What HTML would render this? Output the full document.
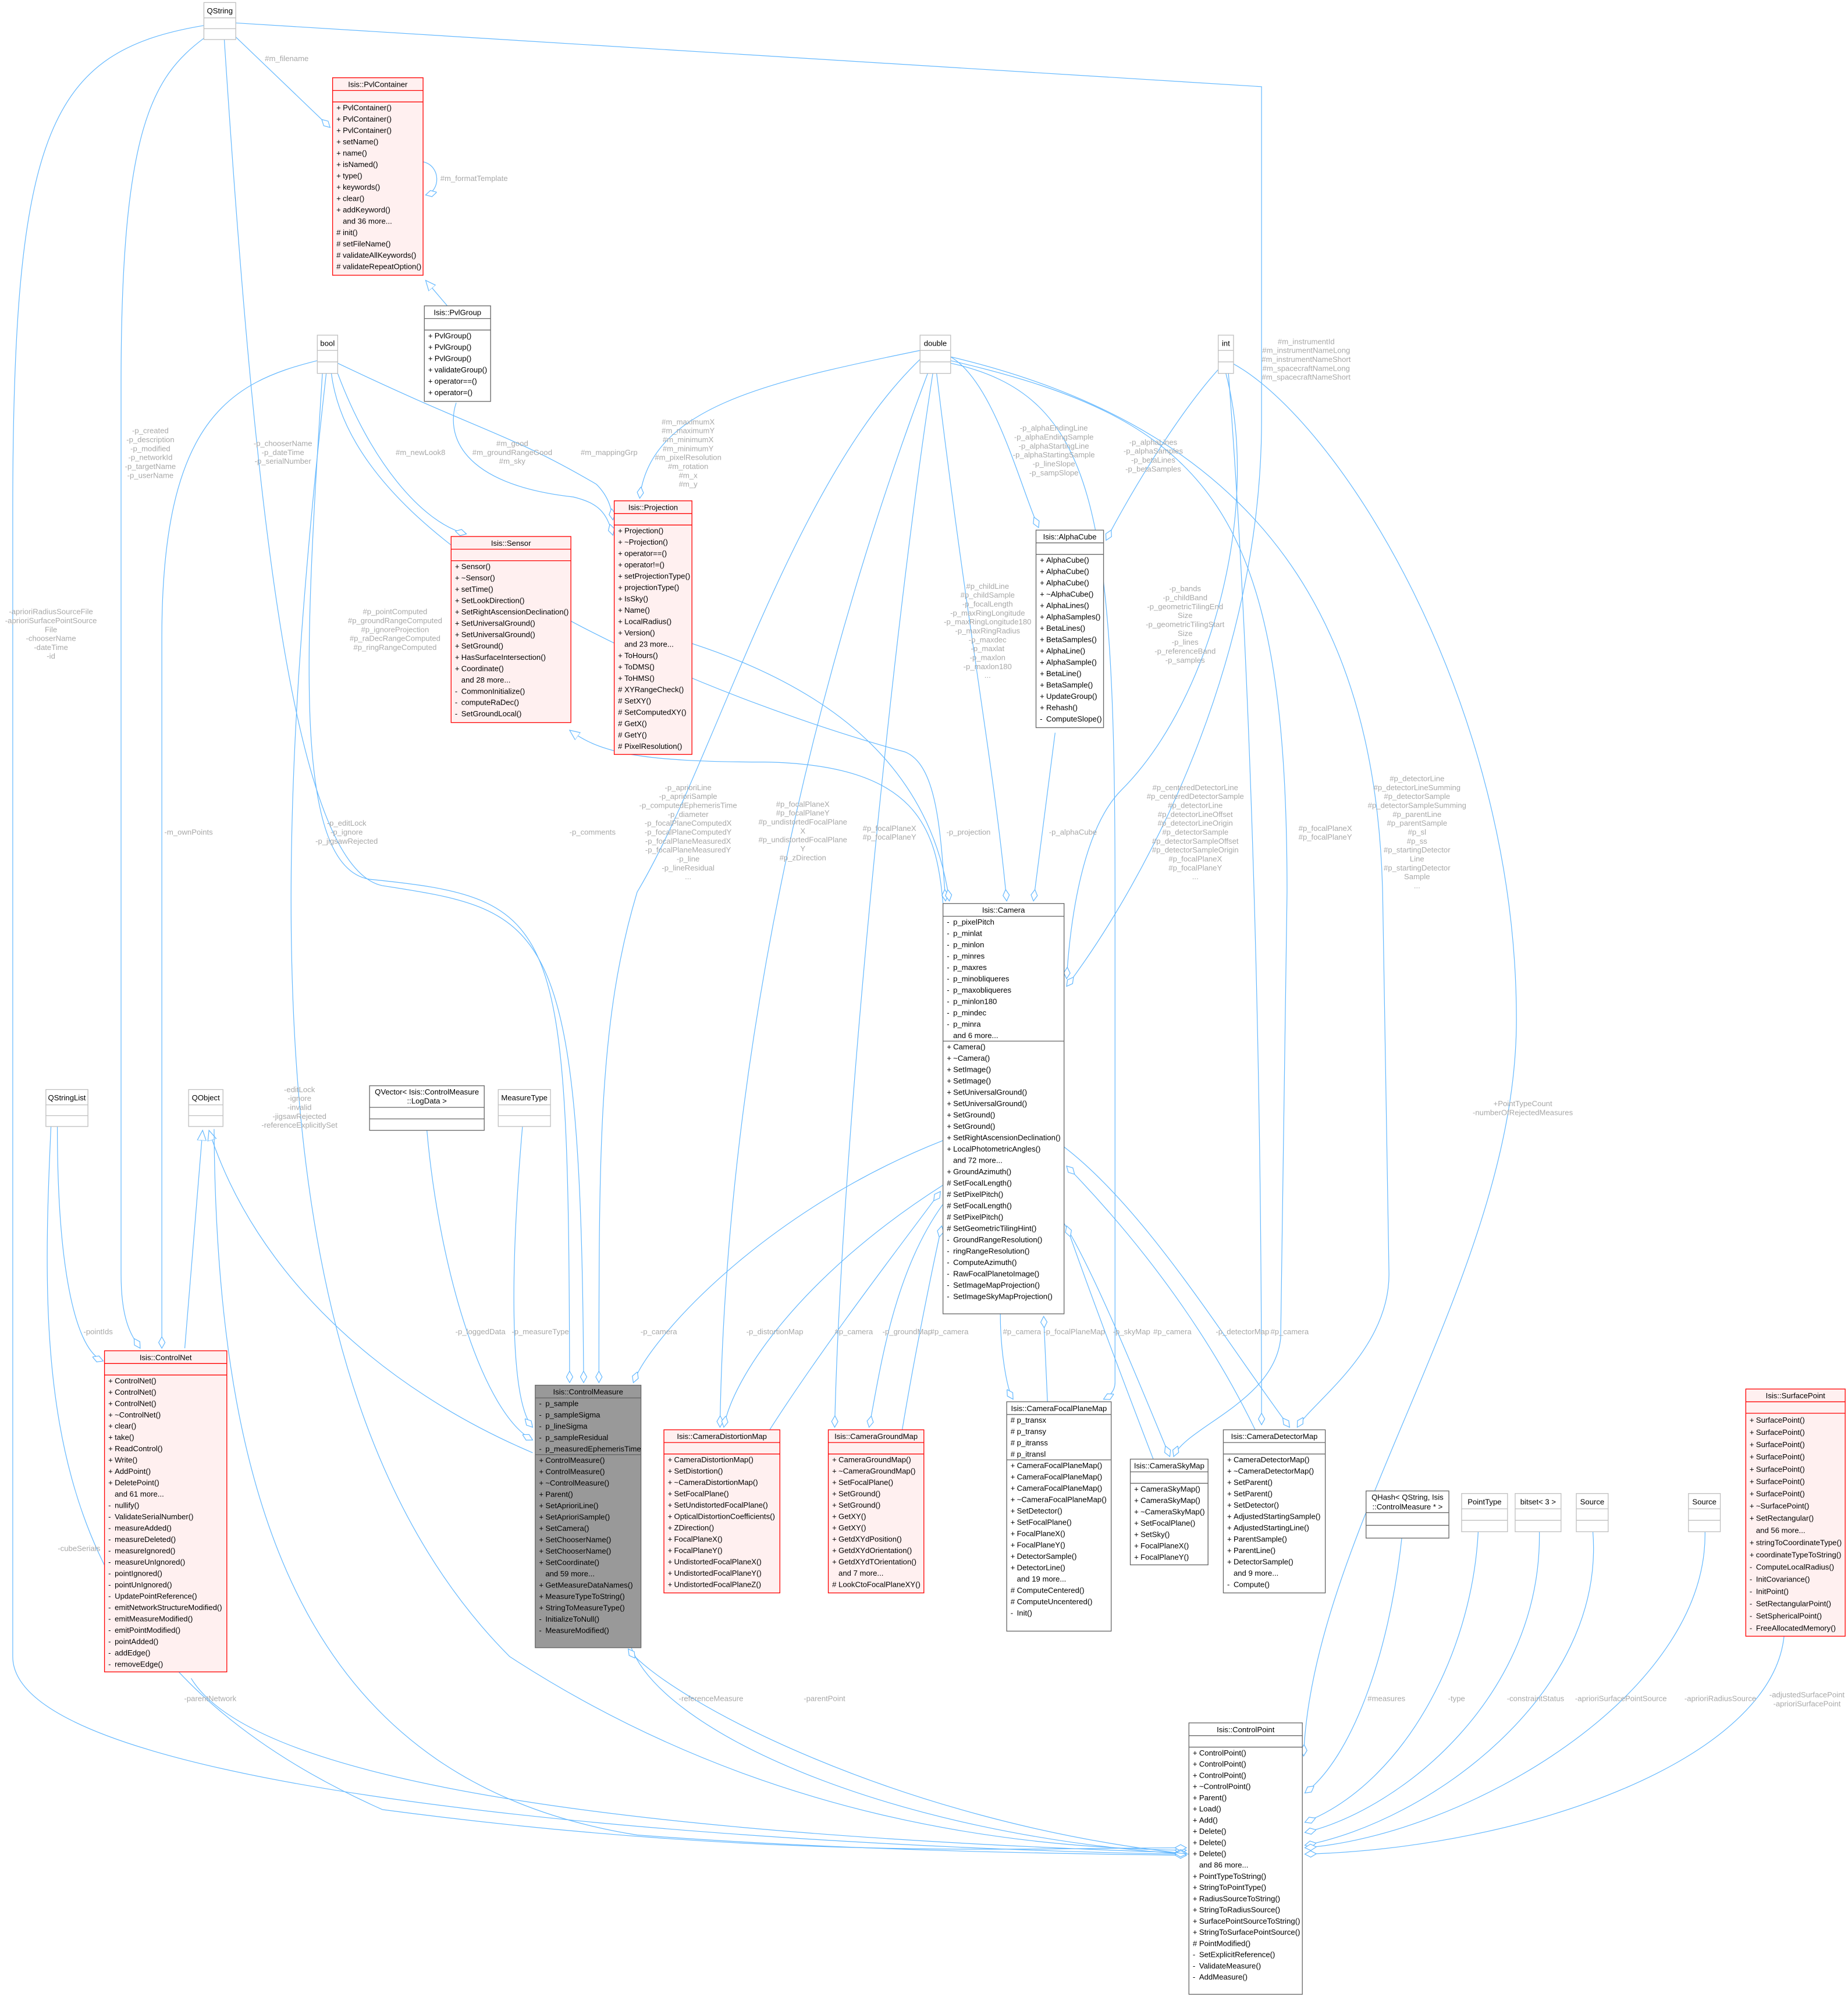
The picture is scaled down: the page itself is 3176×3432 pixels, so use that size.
<!DOCTYPE html>
<html><head><meta charset="utf-8"><style>
html,body{margin:0;padding:0;background:#fff;}
svg{display:block;}
text{font-family:"Liberation Sans",Arial,sans-serif;font-size:6.0px;fill:#000;}
.lb{fill:#a8a8a8;text-anchor:middle;}
.t{text-anchor:middle;}
.e{fill:none;stroke:#63b8ff;stroke-width:0.55;}
.red{fill:#fff0f0;stroke:#ff0000;stroke-width:0.6;}
.rl{stroke:#ff0000;stroke-width:0.6;}
.gr{fill:#fff;stroke:#666;stroke-width:0.6;}
.gl{stroke:#666;stroke-width:0.6;}
.lt{fill:#fff;stroke:#bfbfbf;stroke-width:0.6;}
.ll{stroke:#bfbfbf;stroke-width:0.6;}
.cm{fill:#999;stroke:#666;stroke-width:0.6;}
</style></head><body>
<svg xmlns="http://www.w3.org/2000/svg" width="3176" height="3432" viewBox="0 0 1450.2 1567.1">
<defs>
<marker id="d" markerUnits="userSpaceOnUse" markerWidth="12" markerHeight="8" refX="9" refY="3" orient="auto"><path d="M0,3 L4.5,0.5 L9,3 L4.5,5.5 Z" fill="#fff" stroke="#63b8ff" stroke-width="0.55"/></marker>
<marker id="tr" markerUnits="userSpaceOnUse" markerWidth="12" markerHeight="10" refX="8" refY="4" orient="auto"><path d="M0,0.5 L8,4 L0,7.5 Z" fill="#fff" stroke="#63b8ff" stroke-width="0.55"/></marker>
</defs>
<rect width="1450.2" height="1567.1" fill="#fff"/>

<!-- EDGES -->
<g class="e">
<path d="M185,29 L259,100" marker-end="url(#d)"/>
<path d="M332,127 C346,130 346,150 334,153" marker-end="url(#d)"/>
<path d="M351,240 L334,220" marker-end="url(#tr)"/>
<path d="M185,18 L990,68 L990,330 C990,520 900,690 837,774" marker-end="url(#d)"/>
<path d="M160,20 C40,40 10,100 10,400 L10,1300 C10,1420 700,1452 931,1455" marker-end="url(#d)"/>
<path d="M160,30 C120,60 95,100 95,300 L95,1000 C95,1040 105,1050 110,1058" marker-end="url(#d)"/>
<path d="M176,31 C200,400 230,680 300,695 C430,715 456,720 458,1085" marker-end="url(#d)"/>
<path d="M249,283 C180,300 127,330 127,500 L127,1058" marker-end="url(#d)"/>
<path d="M253,293 C240,500 228,680 290,690 C440,705 446,720 447,1085" marker-end="url(#d)"/>
<path d="M256,293 C210,700 200,1100 400,1300 C600,1430 800,1450 931,1452" marker-end="url(#d)"/>
<path d="M265,293 C290,360 330,410 366,419" marker-end="url(#d)"/>
<path d="M265,285 C380,340 400,340 468,380 C478,390 480,400 481,408" marker-end="url(#d)"/>
<path d="M260,293 C280,450 600,560 710,590 C735,600 738,650 742,707" marker-end="url(#d)"/>
<path d="M358,316 C350,340 360,380 450,390 C470,395 476,402 481,420" marker-end="url(#d)"/>
<path d="M722,275 C600,300 510,320 502,391" marker-end="url(#d)"/>
<path d="M722,282 C620,380 560,600 500,700 C470,800 470,900 470,1085" marker-end="url(#d)"/>
<path d="M728,293 C650,500 570,800 565,1120" marker-end="url(#d)"/>
<path d="M732,293 C700,500 660,900 655,1120" marker-end="url(#d)"/>
<path d="M735,293 C760,500 780,600 790,707" marker-end="url(#d)"/>
<path d="M746,280 C780,300 800,380 815,414" marker-end="url(#d)"/>
<path d="M967,285 C1050,330 1190,550 1190,800 C1190,1000 1030,1200 1023,1378" marker-end="url(#d)"/>
<path d="M746,285 C860,310 875,400 875,700 L875,1085 C875,1092 870,1096 866,1098" marker-end="url(#d)"/>
<path d="M746,283 C950,330 1010,400 1010,700 L1005,1050 C1000,1100 930,1120 921,1143" marker-end="url(#d)"/>
<path d="M746,280 C1000,340 1080,500 1085,700 L1090,1000 C1090,1060 1030,1100 1018,1120" marker-end="url(#d)"/>
<path d="M956,290 C920,330 880,400 868,424" marker-end="url(#d)"/>
<path d="M962,293 C990,400 950,550 880,620 C850,650 840,720 837,768" marker-end="url(#d)"/>
<path d="M964,293 C980,500 990,800 990,1118" marker-end="url(#d)"/>
<path d="M740,709 C735,650 720,600 600,598 C500,598 470,590 447,573" marker-end="url(#tr)"/>
<path d="M543,505 C650,540 730,600 745,707" marker-end="url(#d)"/>
<path d="M828,575 L811,707" marker-end="url(#d)"/>
<path d="M45,884 C45,1000 60,1060 81,1068" marker-end="url(#d)"/>
<path d="M40,884 C30,1100 30,1300 300,1420 C600,1460 800,1450 931,1450" marker-end="url(#d)"/>
<path d="M145,1058 L159,887" marker-end="url(#tr)"/>
<path d="M418,1140 C300,1090 200,1000 164,887" marker-end="url(#tr)"/>
<path d="M168,886 C170,1200 250,1400 500,1440 C700,1455 900,1455 931,1456" marker-end="url(#d)"/>
<path d="M335,887 C345,1000 380,1110 418,1130" marker-end="url(#d)"/>
<path d="M410,884 C400,1000 400,1100 418,1120" marker-end="url(#d)"/>
<path d="M740,895 C600,950 510,1050 497,1085" marker-end="url(#d)"/>
<path d="M740,930 C630,1000 575,1080 568,1120" marker-end="url(#d)"/>
<path d="M604,1122 C650,1050 720,960 738,935" marker-end="url(#d)"/>
<path d="M740,945 C700,1000 690,1080 682,1120" marker-end="url(#d)"/>
<path d="M708,1122 C720,1050 735,980 739,962" marker-end="url(#d)"/>
<path d="M785,1031 C785,1060 790,1090 795,1098" marker-end="url(#d)"/>
<path d="M822,1100 L819,1033" marker-end="url(#d)"/>
<path d="M835,960 C860,1000 900,1100 918,1143" marker-end="url(#d)"/>
<path d="M905,1145 C880,1080 850,1000 837,962" marker-end="url(#d)"/>
<path d="M835,900 C900,950 960,1050 1012,1120" marker-end="url(#d)"/>
<path d="M985,1122 C950,1050 900,980 837,915" marker-end="url(#d)"/>
<path d="M150,1317 C200,1400 500,1440 931,1454" marker-end="url(#d)"/>
<path d="M495,1292 C520,1360 700,1440 931,1455" marker-end="url(#d)"/>
<path d="M933,1455 C700,1430 520,1330 493,1294" marker-end="url(#d)"/>
<path d="M1100,1207 C1090,1300 1060,1380 1024,1407" marker-end="url(#d)"/>
<path d="M1160,1202 C1155,1300 1100,1400 1024,1430" marker-end="url(#d)"/>
<path d="M1208,1202 C1210,1330 1100,1420 1024,1438" marker-end="url(#d)"/>
<path d="M1250,1202 C1260,1330 1120,1430 1024,1448" marker-end="url(#d)"/>
<path d="M1338,1202 C1340,1330 1150,1440 1024,1450" marker-end="url(#d)"/>
<path d="M1400,1284 C1390,1380 1200,1450 1024,1455" marker-end="url(#d)"/>
</g>

<!-- EDGE LABELS -->
<g>
<text class="lb" x="225" y="48">#m_filename</text>
<text class="lb" x="372" y="142">#m_formatTemplate</text>
<text class="lb" x="1025" y="270"><tspan x="1025">#m_instrumentId</tspan><tspan x="1025" dy="7">#m_instrumentNameLong</tspan><tspan x="1025" dy="7">#m_instrumentNameShort</tspan><tspan x="1025" dy="7">#m_spacecraftNameLong</tspan><tspan x="1025" dy="7">#m_spacecraftNameShort</tspan></text>
<text class="lb" x="40" y="482"><tspan x="40">-aprioriRadiusSourceFile</tspan><tspan x="40" dy="7">-aprioriSurfacePointSource</tspan><tspan x="40" dy="7">File</tspan><tspan x="40" dy="7">-chooserName</tspan><tspan x="40" dy="7">-dateTime</tspan><tspan x="40" dy="7">-id</tspan></text>
<text class="lb" x="118" y="340"><tspan x="118">-p_created</tspan><tspan x="118" dy="7">-p_description</tspan><tspan x="118" dy="7">-p_modified</tspan><tspan x="118" dy="7">-p_networkId</tspan><tspan x="118" dy="7">-p_targetName</tspan><tspan x="118" dy="7">-p_userName</tspan></text>
<text class="lb" x="222" y="350"><tspan x="222">-p_chooserName</tspan><tspan x="222" dy="7">-p_dateTime</tspan><tspan x="222" dy="7">-p_serialNumber</tspan></text>
<text class="lb" x="330" y="357">#m_newLook8</text>
<text class="lb" x="402" y="350"><tspan x="402">#m_good</tspan><tspan x="402" dy="7">#m_groundRangeGood</tspan><tspan x="402" dy="7">#m_sky</tspan></text>
<text class="lb" x="478" y="357">#m_mappingGrp</text>
<text class="lb" x="540" y="333"><tspan x="540">#m_maximumX</tspan><tspan x="540" dy="7">#m_maximumY</tspan><tspan x="540" dy="7">#m_minimumX</tspan><tspan x="540" dy="7">#m_minimumY</tspan><tspan x="540" dy="7">#m_pixelResolution</tspan><tspan x="540" dy="7">#m_rotation</tspan><tspan x="540" dy="7">#m_x</tspan><tspan x="540" dy="7">#m_y</tspan></text>
<text class="lb" x="310" y="482"><tspan x="310">#p_pointComputed</tspan><tspan x="310" dy="7">#p_groundRangeComputed</tspan><tspan x="310" dy="7">#p_ignoreProjection</tspan><tspan x="310" dy="7">#p_raDecRangeComputed</tspan><tspan x="310" dy="7">#p_ringRangeComputed</tspan></text>
<text class="lb" x="827" y="338"><tspan x="827">-p_alphaEndingLine</tspan><tspan x="827" dy="7">-p_alphaEndingSample</tspan><tspan x="827" dy="7">-p_alphaStartingLine</tspan><tspan x="827" dy="7">-p_alphaStartingSample</tspan><tspan x="827" dy="7">-p_lineSlope</tspan><tspan x="827" dy="7">-p_sampSlope</tspan></text>
<text class="lb" x="905" y="349"><tspan x="905">-p_alphaLines</tspan><tspan x="905" dy="7">-p_alphaSamples</tspan><tspan x="905" dy="7">-p_betaLines</tspan><tspan x="905" dy="7">-p_betaSamples</tspan></text>
<text class="lb" x="775" y="462"><tspan x="775">#p_childLine</tspan><tspan x="775" dy="7">#p_childSample</tspan><tspan x="775" dy="7">-p_focalLength</tspan><tspan x="775" dy="7">-p_maxRingLongitude</tspan><tspan x="775" dy="7">-p_maxRingLongitude180</tspan><tspan x="775" dy="7">-p_maxRingRadius</tspan><tspan x="775" dy="7">-p_maxdec</tspan><tspan x="775" dy="7">-p_maxlat</tspan><tspan x="775" dy="7">-p_maxlon</tspan><tspan x="775" dy="7">-p_maxlon180</tspan><tspan x="775" dy="7">...</tspan></text>
<text class="lb" x="930" y="464"><tspan x="930">-p_bands</tspan><tspan x="930" dy="7">-p_childBand</tspan><tspan x="930" dy="7">-p_geometricTilingEnd</tspan><tspan x="930" dy="7">Size</tspan><tspan x="930" dy="7">-p_geometricTilingStart</tspan><tspan x="930" dy="7">Size</tspan><tspan x="930" dy="7">-p_lines</tspan><tspan x="930" dy="7">-p_referenceBand</tspan><tspan x="930" dy="7">-p_samples</tspan></text>
<text class="lb" x="938" y="620"><tspan x="938">#p_centeredDetectorLine</tspan><tspan x="938" dy="7">#p_centeredDetectorSample</tspan><tspan x="938" dy="7">#p_detectorLine</tspan><tspan x="938" dy="7">#p_detectorLineOffset</tspan><tspan x="938" dy="7">#p_detectorLineOrigin</tspan><tspan x="938" dy="7">#p_detectorSample</tspan><tspan x="938" dy="7">#p_detectorSampleOffset</tspan><tspan x="938" dy="7">#p_detectorSampleOrigin</tspan><tspan x="938" dy="7">#p_focalPlaneX</tspan><tspan x="938" dy="7">#p_focalPlaneY</tspan><tspan x="938" dy="7">...</tspan></text>
<text class="lb" x="1040" y="652"><tspan x="1040">#p_focalPlaneX</tspan><tspan x="1040" dy="7">#p_focalPlaneY</tspan></text>
<text class="lb" x="1112" y="613"><tspan x="1112">#p_detectorLine</tspan><tspan x="1112" dy="7">#p_detectorLineSumming</tspan><tspan x="1112" dy="7">#p_detectorSample</tspan><tspan x="1112" dy="7">#p_detectorSampleSumming</tspan><tspan x="1112" dy="7">#p_parentLine</tspan><tspan x="1112" dy="7">#p_parentSample</tspan><tspan x="1112" dy="7">#p_sl</tspan><tspan x="1112" dy="7">#p_ss</tspan><tspan x="1112" dy="7">#p_startingDetector</tspan><tspan x="1112" dy="7">Line</tspan><tspan x="1112" dy="7">#p_startingDetector</tspan><tspan x="1112" dy="7">Sample</tspan><tspan x="1112" dy="7">...</tspan></text>
<text class="lb" x="540" y="620"><tspan x="540">-p_aprioriLine</tspan><tspan x="540" dy="7">-p_aprioriSample</tspan><tspan x="540" dy="7">-p_computedEphemerisTime</tspan><tspan x="540" dy="7">-p_diameter</tspan><tspan x="540" dy="7">-p_focalPlaneComputedX</tspan><tspan x="540" dy="7">-p_focalPlaneComputedY</tspan><tspan x="540" dy="7">-p_focalPlaneMeasuredX</tspan><tspan x="540" dy="7">-p_focalPlaneMeasuredY</tspan><tspan x="540" dy="7">-p_line</tspan><tspan x="540" dy="7">-p_lineResidual</tspan><tspan x="540" dy="7">...</tspan></text>
<text class="lb" x="630" y="633"><tspan x="630">#p_focalPlaneX</tspan><tspan x="630" dy="7">#p_focalPlaneY</tspan><tspan x="630" dy="7">#p_undistortedFocalPlane</tspan><tspan x="630" dy="7">X</tspan><tspan x="630" dy="7">#p_undistortedFocalPlane</tspan><tspan x="630" dy="7">Y</tspan><tspan x="630" dy="7">#p_zDirection</tspan></text>
<text class="lb" x="698" y="652"><tspan x="698">#p_focalPlaneX</tspan><tspan x="698" dy="7">#p_focalPlaneY</tspan></text>
<text class="lb" x="148" y="655">-m_ownPoints</text>
<text class="lb" x="272" y="648"><tspan x="272">-p_editLock</tspan><tspan x="272" dy="7">-p_ignore</tspan><tspan x="272" dy="7">-p_jigsawRejected</tspan></text>
<text class="lb" x="465" y="655">-p_comments</text>
<text class="lb" x="760" y="655">-p_projection</text>
<text class="lb" x="842" y="655">-p_alphaCube</text>
<text class="lb" x="235" y="857"><tspan x="235">-editLock</tspan><tspan x="235" dy="7">-ignore</tspan><tspan x="235" dy="7">-invalid</tspan><tspan x="235" dy="7">-jigsawRejected</tspan><tspan x="235" dy="7">-referenceExplicitlySet</tspan></text>
<text class="lb" x="1195" y="868"><tspan x="1195">+PointTypeCount</tspan><tspan x="1195" dy="7">-numberOfRejectedMeasures</tspan></text>
<text class="lb" x="77" y="1047">-pointIds</text>
<text class="lb" x="377" y="1047">-p_loggedData</text>
<text class="lb" x="424" y="1047">-p_measureType</text>
<text class="lb" x="517" y="1047">-p_camera</text>
<text class="lb" x="608" y="1047">-p_distortionMap</text>
<text class="lb" x="670" y="1047">#p_camera</text>
<text class="lb" x="712" y="1047">-p_groundMap</text>
<text class="lb" x="745" y="1047">#p_camera</text>
<text class="lb" x="802" y="1047">#p_camera</text>
<text class="lb" x="843" y="1047">-p_focalPlaneMap</text>
<text class="lb" x="888" y="1047">-p_skyMap</text>
<text class="lb" x="920" y="1047">#p_camera</text>
<text class="lb" x="975" y="1047">-p_detectorMap</text>
<text class="lb" x="1012" y="1047">#p_camera</text>
<text class="lb" x="62" y="1217">-cubeSerials</text>
<text class="lb" x="165" y="1335">-parentNetwork</text>
<text class="lb" x="558" y="1335">-referenceMeasure</text>
<text class="lb" x="647" y="1335">-parentPoint</text>
<text class="lb" x="1088" y="1335">#measures</text>
<text class="lb" x="1143" y="1335">-type</text>
<text class="lb" x="1205" y="1335">-constraintStatus</text>
<text class="lb" x="1272" y="1335">-aprioriSurfacePointSource</text>
<text class="lb" x="1350" y="1335">-aprioriRadiusSource</text>
<text class="lb" x="1418" y="1332"><tspan x="1418">-adjustedSurfacePoint</tspan><tspan x="1418" dy="7">-aprioriSurfacePoint</tspan></text>
</g>

<!-- SIMPLE BOXES -->
<g>
<rect class="lt" x="160" y="2" width="25" height="29"/><line class="ll" x1="160" y1="14" x2="185" y2="14"/><line class="ll" x1="160" y1="22.5" x2="185" y2="22.5"/><text class="t" x="172.5" y="10.5">QString</text>
<rect class="lt" x="249" y="263" width="16" height="30"/><line class="ll" x1="249" y1="275" x2="265" y2="275"/><line class="ll" x1="249" y1="284" x2="265" y2="284"/><text class="t" x="257" y="271.5">bool</text>
<rect class="lt" x="722" y="263" width="24" height="30"/><line class="ll" x1="722" y1="275" x2="746" y2="275"/><line class="ll" x1="722" y1="284" x2="746" y2="284"/><text class="t" x="734" y="271.5">double</text>
<rect class="lt" x="956" y="263" width="12" height="30"/><line class="ll" x1="956" y1="275" x2="968" y2="275"/><line class="ll" x1="956" y1="284" x2="968" y2="284"/><text class="t" x="962" y="271.5">int</text>
<rect class="lt" x="36" y="855" width="33" height="29"/><line class="ll" x1="36" y1="867" x2="69" y2="867"/><line class="ll" x1="36" y1="875.5" x2="69" y2="875.5"/><text class="t" x="52.5" y="863.5">QStringList</text>
<rect class="lt" x="148" y="855" width="27" height="29"/><line class="ll" x1="148" y1="867" x2="175" y2="867"/><line class="ll" x1="148" y1="875.5" x2="175" y2="875.5"/><text class="t" x="161.5" y="863.5">QObject</text>
<rect class="lt" x="391" y="855" width="41" height="29"/><line class="ll" x1="391" y1="867" x2="432" y2="867"/><line class="ll" x1="391" y1="875.5" x2="432" y2="875.5"/><text class="t" x="411.5" y="863.5">MeasureType</text>
<rect class="gr" x="290" y="852" width="90" height="35"/><line class="gl" x1="290" y1="869" x2="380" y2="869"/><line class="gl" x1="290" y1="878" x2="380" y2="878"/><text class="t" x="335" y="859">QVector&lt; Isis::ControlMeasure</text><text class="t" x="335" y="866">::LogData &gt;</text>
<rect class="gr" x="1072" y="1170" width="65" height="37"/><line class="gl" x1="1072" y1="1187" x2="1137" y2="1187"/><line class="gl" x1="1072" y1="1197" x2="1137" y2="1197"/><text class="t" x="1104.5" y="1177">QHash&lt; QString, Isis</text><text class="t" x="1104.5" y="1184.5">::ControlMeasure * &gt;</text>
<rect class="lt" x="1147" y="1172" width="36" height="30"/><line class="ll" x1="1147" y1="1184" x2="1183" y2="1184"/><line class="ll" x1="1147" y1="1193" x2="1183" y2="1193"/><text class="t" x="1165" y="1180.5">PointType</text>
<rect class="lt" x="1189" y="1172" width="36" height="30"/><line class="ll" x1="1189" y1="1184" x2="1225" y2="1184"/><line class="ll" x1="1189" y1="1193" x2="1225" y2="1193"/><text class="t" x="1207" y="1180.5">bitset&lt; 3 &gt;</text>
<rect class="lt" x="1237" y="1172" width="25" height="30"/><line class="ll" x1="1237" y1="1184" x2="1262" y2="1184"/><line class="ll" x1="1237" y1="1193" x2="1262" y2="1193"/><text class="t" x="1249.5" y="1180.5">Source</text>
<rect class="lt" x="1325" y="1172" width="25" height="30"/><line class="ll" x1="1325" y1="1184" x2="1350" y2="1184"/><line class="ll" x1="1325" y1="1193" x2="1350" y2="1193"/><text class="t" x="1337.5" y="1180.5">Source</text>
</g>

<!-- PvlContainer -->
<g>
<rect class="red" x="261" y="61" width="71" height="155"/><line class="rl" x1="261" y1="71" x2="332" y2="71"/><line class="rl" x1="261" y1="80" x2="332" y2="80"/>
<text class="t" x="296.5" y="68.3">Isis::PvlContainer</text>
<text x="264" y="86.5"><tspan x="264">+</tspan><tspan x="264" dy="8.9">+</tspan><tspan x="264" dy="8.9">+</tspan><tspan x="264" dy="8.9">+</tspan><tspan x="264" dy="8.9">+</tspan><tspan x="264" dy="8.9">+</tspan><tspan x="264" dy="8.9">+</tspan><tspan x="264" dy="8.9">+</tspan><tspan x="264" dy="8.9">+</tspan><tspan x="264" dy="8.9">+</tspan><tspan x="264" dy="8.9"> </tspan><tspan x="264" dy="8.9">#</tspan><tspan x="264" dy="8.9">#</tspan><tspan x="264" dy="8.9">#</tspan><tspan x="264" dy="8.9">#</tspan></text>
<text x="269" y="86.5"><tspan x="269">PvlContainer()</tspan><tspan x="269" dy="8.9">PvlContainer()</tspan><tspan x="269" dy="8.9">PvlContainer()</tspan><tspan x="269" dy="8.9">setName()</tspan><tspan x="269" dy="8.9">name()</tspan><tspan x="269" dy="8.9">isNamed()</tspan><tspan x="269" dy="8.9">type()</tspan><tspan x="269" dy="8.9">keywords()</tspan><tspan x="269" dy="8.9">clear()</tspan><tspan x="269" dy="8.9">addKeyword()</tspan><tspan x="269" dy="8.9">and 36 more...</tspan><tspan x="269" dy="8.9">init()</tspan><tspan x="269" dy="8.9">setFileName()</tspan><tspan x="269" dy="8.9">validateAllKeywords()</tspan><tspan x="269" dy="8.9">validateRepeatOption()</tspan></text>
</g>

<!-- PvlGroup -->
<g>
<rect class="gr" x="333" y="240" width="52" height="75"/><line class="gl" x1="333" y1="250" x2="385" y2="250"/><line class="gl" x1="333" y1="259" x2="385" y2="259"/>
<text class="t" x="359" y="247.3">Isis::PvlGroup</text>
<text x="336" y="265.5"><tspan x="336">+</tspan><tspan x="336" dy="8.9">+</tspan><tspan x="336" dy="8.9">+</tspan><tspan x="336" dy="8.9">+</tspan><tspan x="336" dy="8.9">+</tspan><tspan x="336" dy="8.9">+</tspan></text>
<text x="341" y="265.5"><tspan x="341">PvlGroup()</tspan><tspan x="341" dy="8.9">PvlGroup()</tspan><tspan x="341" dy="8.9">PvlGroup()</tspan><tspan x="341" dy="8.9">validateGroup()</tspan><tspan x="341" dy="8.9">operator==()</tspan><tspan x="341" dy="8.9">operator=()</tspan></text>
</g>

<!-- Projection -->
<g>
<rect class="red" x="482" y="393" width="61" height="199"/><line class="rl" x1="482" y1="403" x2="543" y2="403"/><line class="rl" x1="482" y1="412" x2="543" y2="412"/>
<text class="t" x="512.5" y="400.3">Isis::Projection</text>
<text x="485" y="418.5"><tspan x="485">+</tspan><tspan x="485" dy="8.9">+</tspan><tspan x="485" dy="8.9">+</tspan><tspan x="485" dy="8.9">+</tspan><tspan x="485" dy="8.9">+</tspan><tspan x="485" dy="8.9">+</tspan><tspan x="485" dy="8.9">+</tspan><tspan x="485" dy="8.9">+</tspan><tspan x="485" dy="8.9">+</tspan><tspan x="485" dy="8.9">+</tspan><tspan x="485" dy="8.9"> </tspan><tspan x="485" dy="8.9">+</tspan><tspan x="485" dy="8.9">+</tspan><tspan x="485" dy="8.9">+</tspan><tspan x="485" dy="8.9">#</tspan><tspan x="485" dy="8.9">#</tspan><tspan x="485" dy="8.9">#</tspan><tspan x="485" dy="8.9">#</tspan><tspan x="485" dy="8.9">#</tspan><tspan x="485" dy="8.9">#</tspan></text>
<text x="490" y="418.5"><tspan x="490">Projection()</tspan><tspan x="490" dy="8.9">~Projection()</tspan><tspan x="490" dy="8.9">operator==()</tspan><tspan x="490" dy="8.9">operator!=()</tspan><tspan x="490" dy="8.9">setProjectionType()</tspan><tspan x="490" dy="8.9">projectionType()</tspan><tspan x="490" dy="8.9">IsSky()</tspan><tspan x="490" dy="8.9">Name()</tspan><tspan x="490" dy="8.9">LocalRadius()</tspan><tspan x="490" dy="8.9">Version()</tspan><tspan x="490" dy="8.9">and 23 more...</tspan><tspan x="490" dy="8.9">ToHours()</tspan><tspan x="490" dy="8.9">ToDMS()</tspan><tspan x="490" dy="8.9">ToHMS()</tspan><tspan x="490" dy="8.9">XYRangeCheck()</tspan><tspan x="490" dy="8.9">SetXY()</tspan><tspan x="490" dy="8.9">SetComputedXY()</tspan><tspan x="490" dy="8.9">GetX()</tspan><tspan x="490" dy="8.9">GetY()</tspan><tspan x="490" dy="8.9">PixelResolution()</tspan></text>
</g>

<!-- Sensor -->
<g>
<rect class="red" x="354" y="421" width="94" height="146"/><line class="rl" x1="354" y1="431" x2="448" y2="431"/><line class="rl" x1="354" y1="440" x2="448" y2="440"/>
<text class="t" x="401" y="428.3">Isis::Sensor</text>
<text x="357" y="446.5"><tspan x="357">+</tspan><tspan x="357" dy="8.9">+</tspan><tspan x="357" dy="8.9">+</tspan><tspan x="357" dy="8.9">+</tspan><tspan x="357" dy="8.9">+</tspan><tspan x="357" dy="8.9">+</tspan><tspan x="357" dy="8.9">+</tspan><tspan x="357" dy="8.9">+</tspan><tspan x="357" dy="8.9">+</tspan><tspan x="357" dy="8.9">+</tspan><tspan x="357" dy="8.9"> </tspan><tspan x="357" dy="8.9">-</tspan><tspan x="357" dy="8.9">-</tspan><tspan x="357" dy="8.9">-</tspan></text>
<text x="362" y="446.5"><tspan x="362">Sensor()</tspan><tspan x="362" dy="8.9">~Sensor()</tspan><tspan x="362" dy="8.9">setTime()</tspan><tspan x="362" dy="8.9">SetLookDirection()</tspan><tspan x="362" dy="8.9">SetRightAscensionDeclination()</tspan><tspan x="362" dy="8.9">SetUniversalGround()</tspan><tspan x="362" dy="8.9">SetUniversalGround()</tspan><tspan x="362" dy="8.9">SetGround()</tspan><tspan x="362" dy="8.9">HasSurfaceIntersection()</tspan><tspan x="362" dy="8.9">Coordinate()</tspan><tspan x="362" dy="8.9">and 28 more...</tspan><tspan x="362" dy="8.9">CommonInitialize()</tspan><tspan x="362" dy="8.9">computeRaDec()</tspan><tspan x="362" dy="8.9">SetGroundLocal()</tspan></text>
</g>

<!-- AlphaCube -->
<g>
<rect class="gr" x="813" y="416" width="53" height="155"/><line class="gl" x1="813" y1="426" x2="866" y2="426"/><line class="gl" x1="813" y1="435" x2="866" y2="435"/>
<text class="t" x="839.5" y="423.3">Isis::AlphaCube</text>
<text x="816" y="441.5"><tspan x="816">+</tspan><tspan x="816" dy="8.9">+</tspan><tspan x="816" dy="8.9">+</tspan><tspan x="816" dy="8.9">+</tspan><tspan x="816" dy="8.9">+</tspan><tspan x="816" dy="8.9">+</tspan><tspan x="816" dy="8.9">+</tspan><tspan x="816" dy="8.9">+</tspan><tspan x="816" dy="8.9">+</tspan><tspan x="816" dy="8.9">+</tspan><tspan x="816" dy="8.9">+</tspan><tspan x="816" dy="8.9">+</tspan><tspan x="816" dy="8.9">+</tspan><tspan x="816" dy="8.9">+</tspan><tspan x="816" dy="8.9">-</tspan></text>
<text x="821" y="441.5"><tspan x="821">AlphaCube()</tspan><tspan x="821" dy="8.9">AlphaCube()</tspan><tspan x="821" dy="8.9">AlphaCube()</tspan><tspan x="821" dy="8.9">~AlphaCube()</tspan><tspan x="821" dy="8.9">AlphaLines()</tspan><tspan x="821" dy="8.9">AlphaSamples()</tspan><tspan x="821" dy="8.9">BetaLines()</tspan><tspan x="821" dy="8.9">BetaSamples()</tspan><tspan x="821" dy="8.9">AlphaLine()</tspan><tspan x="821" dy="8.9">AlphaSample()</tspan><tspan x="821" dy="8.9">BetaLine()</tspan><tspan x="821" dy="8.9">BetaSample()</tspan><tspan x="821" dy="8.9">UpdateGroup()</tspan><tspan x="821" dy="8.9">Rehash()</tspan><tspan x="821" dy="8.9">ComputeSlope()</tspan></text>
</g>

<!-- Camera -->
<g>
<rect class="gr" x="740" y="709" width="95" height="322"/><line class="gl" x1="740" y1="719" x2="835" y2="719"/><line class="gl" x1="740" y1="817" x2="835" y2="817"/>
<text class="t" x="787.5" y="716.3">Isis::Camera</text>
<text x="743" y="725.5"><tspan x="743">-</tspan><tspan x="743" dy="8.9">-</tspan><tspan x="743" dy="8.9">-</tspan><tspan x="743" dy="8.9">-</tspan><tspan x="743" dy="8.9">-</tspan><tspan x="743" dy="8.9">-</tspan><tspan x="743" dy="8.9">-</tspan><tspan x="743" dy="8.9">-</tspan><tspan x="743" dy="8.9">-</tspan><tspan x="743" dy="8.9">-</tspan></text>
<text x="748" y="725.5"><tspan x="748">p_pixelPitch</tspan><tspan x="748" dy="8.9">p_minlat</tspan><tspan x="748" dy="8.9">p_minlon</tspan><tspan x="748" dy="8.9">p_minres</tspan><tspan x="748" dy="8.9">p_maxres</tspan><tspan x="748" dy="8.9">p_minobliqueres</tspan><tspan x="748" dy="8.9">p_maxobliqueres</tspan><tspan x="748" dy="8.9">p_minlon180</tspan><tspan x="748" dy="8.9">p_mindec</tspan><tspan x="748" dy="8.9">p_minra</tspan><tspan x="748" dy="8.9">and 6 more...</tspan></text>
<text x="743" y="823.5"><tspan x="743">+</tspan><tspan x="743" dy="8.9">+</tspan><tspan x="743" dy="8.9">+</tspan><tspan x="743" dy="8.9">+</tspan><tspan x="743" dy="8.9">+</tspan><tspan x="743" dy="8.9">+</tspan><tspan x="743" dy="8.9">+</tspan><tspan x="743" dy="8.9">+</tspan><tspan x="743" dy="8.9">+</tspan><tspan x="743" dy="8.9">+</tspan><tspan x="743" dy="8.9"> </tspan><tspan x="743" dy="8.9">+</tspan><tspan x="743" dy="8.9">#</tspan><tspan x="743" dy="8.9">#</tspan><tspan x="743" dy="8.9">#</tspan><tspan x="743" dy="8.9">#</tspan><tspan x="743" dy="8.9">#</tspan><tspan x="743" dy="8.9">-</tspan><tspan x="743" dy="8.9">-</tspan><tspan x="743" dy="8.9">-</tspan><tspan x="743" dy="8.9">-</tspan><tspan x="743" dy="8.9">-</tspan><tspan x="743" dy="8.9">-</tspan></text>
<text x="748" y="823.5"><tspan x="748">Camera()</tspan><tspan x="748" dy="8.9">~Camera()</tspan><tspan x="748" dy="8.9">SetImage()</tspan><tspan x="748" dy="8.9">SetImage()</tspan><tspan x="748" dy="8.9">SetUniversalGround()</tspan><tspan x="748" dy="8.9">SetUniversalGround()</tspan><tspan x="748" dy="8.9">SetGround()</tspan><tspan x="748" dy="8.9">SetGround()</tspan><tspan x="748" dy="8.9">SetRightAscensionDeclination()</tspan><tspan x="748" dy="8.9">LocalPhotometricAngles()</tspan><tspan x="748" dy="8.9">and 72 more...</tspan><tspan x="748" dy="8.9">GroundAzimuth()</tspan><tspan x="748" dy="8.9">SetFocalLength()</tspan><tspan x="748" dy="8.9">SetPixelPitch()</tspan><tspan x="748" dy="8.9">SetFocalLength()</tspan><tspan x="748" dy="8.9">SetPixelPitch()</tspan><tspan x="748" dy="8.9">SetGeometricTilingHint()</tspan><tspan x="748" dy="8.9">GroundRangeResolution()</tspan><tspan x="748" dy="8.9">ringRangeResolution()</tspan><tspan x="748" dy="8.9">ComputeAzimuth()</tspan><tspan x="748" dy="8.9">RawFocalPlanetoImage()</tspan><tspan x="748" dy="8.9">SetImageMapProjection()</tspan><tspan x="748" dy="8.9">SetImageSkyMapProjection()</tspan></text>
</g>

<!-- ControlNet -->
<g>
<rect class="red" x="82" y="1060" width="96" height="252"/><line class="rl" x1="82" y1="1070" x2="178" y2="1070"/><line class="rl" x1="82" y1="1079" x2="178" y2="1079"/>
<text class="t" x="130" y="1067.3">Isis::ControlNet</text>
<text x="85" y="1085.5"><tspan x="85">+</tspan><tspan x="85" dy="8.9">+</tspan><tspan x="85" dy="8.9">+</tspan><tspan x="85" dy="8.9">+</tspan><tspan x="85" dy="8.9">+</tspan><tspan x="85" dy="8.9">+</tspan><tspan x="85" dy="8.9">+</tspan><tspan x="85" dy="8.9">+</tspan><tspan x="85" dy="8.9">+</tspan><tspan x="85" dy="8.9">+</tspan><tspan x="85" dy="8.9"> </tspan><tspan x="85" dy="8.9">-</tspan><tspan x="85" dy="8.9">-</tspan><tspan x="85" dy="8.9">-</tspan><tspan x="85" dy="8.9">-</tspan><tspan x="85" dy="8.9">-</tspan><tspan x="85" dy="8.9">-</tspan><tspan x="85" dy="8.9">-</tspan><tspan x="85" dy="8.9">-</tspan><tspan x="85" dy="8.9">-</tspan><tspan x="85" dy="8.9">-</tspan><tspan x="85" dy="8.9">-</tspan><tspan x="85" dy="8.9">-</tspan><tspan x="85" dy="8.9">-</tspan><tspan x="85" dy="8.9">-</tspan><tspan x="85" dy="8.9">-</tspan></text>
<text x="90" y="1085.5"><tspan x="90">ControlNet()</tspan><tspan x="90" dy="8.9">ControlNet()</tspan><tspan x="90" dy="8.9">ControlNet()</tspan><tspan x="90" dy="8.9">~ControlNet()</tspan><tspan x="90" dy="8.9">clear()</tspan><tspan x="90" dy="8.9">take()</tspan><tspan x="90" dy="8.9">ReadControl()</tspan><tspan x="90" dy="8.9">Write()</tspan><tspan x="90" dy="8.9">AddPoint()</tspan><tspan x="90" dy="8.9">DeletePoint()</tspan><tspan x="90" dy="8.9">and 61 more...</tspan><tspan x="90" dy="8.9">nullify()</tspan><tspan x="90" dy="8.9">ValidateSerialNumber()</tspan><tspan x="90" dy="8.9">measureAdded()</tspan><tspan x="90" dy="8.9">measureDeleted()</tspan><tspan x="90" dy="8.9">measureIgnored()</tspan><tspan x="90" dy="8.9">measureUnIgnored()</tspan><tspan x="90" dy="8.9">pointIgnored()</tspan><tspan x="90" dy="8.9">pointUnIgnored()</tspan><tspan x="90" dy="8.9">UpdatePointReference()</tspan><tspan x="90" dy="8.9">emitNetworkStructureModified()</tspan><tspan x="90" dy="8.9">emitMeasureModified()</tspan><tspan x="90" dy="8.9">emitPointModified()</tspan><tspan x="90" dy="8.9">pointAdded()</tspan><tspan x="90" dy="8.9">addEdge()</tspan><tspan x="90" dy="8.9">removeEdge()</tspan></text>
</g>

<!-- ControlMeasure -->
<g>
<rect class="cm" x="420" y="1087" width="83" height="206"/><line class="gl" x1="420" y1="1097" x2="503" y2="1097"/><line class="gl" x1="420" y1="1141.5" x2="503" y2="1141.5"/>
<text class="t" x="461.5" y="1094.3">Isis::ControlMeasure</text>
<text x="423" y="1103.5"><tspan x="423">-</tspan><tspan x="423" dy="8.9">-</tspan><tspan x="423" dy="8.9">-</tspan><tspan x="423" dy="8.9">-</tspan><tspan x="423" dy="8.9">-</tspan></text>
<text x="428" y="1103.5"><tspan x="428">p_sample</tspan><tspan x="428" dy="8.9">p_sampleSigma</tspan><tspan x="428" dy="8.9">p_lineSigma</tspan><tspan x="428" dy="8.9">p_sampleResidual</tspan><tspan x="428" dy="8.9">p_measuredEphemerisTime</tspan></text>
<text x="423" y="1148"><tspan x="423">+</tspan><tspan x="423" dy="8.9">+</tspan><tspan x="423" dy="8.9">+</tspan><tspan x="423" dy="8.9">+</tspan><tspan x="423" dy="8.9">+</tspan><tspan x="423" dy="8.9">+</tspan><tspan x="423" dy="8.9">+</tspan><tspan x="423" dy="8.9">+</tspan><tspan x="423" dy="8.9">+</tspan><tspan x="423" dy="8.9">+</tspan><tspan x="423" dy="8.9"> </tspan><tspan x="423" dy="8.9">+</tspan><tspan x="423" dy="8.9">+</tspan><tspan x="423" dy="8.9">+</tspan><tspan x="423" dy="8.9">-</tspan><tspan x="423" dy="8.9">-</tspan></text>
<text x="428" y="1148"><tspan x="428">ControlMeasure()</tspan><tspan x="428" dy="8.9">ControlMeasure()</tspan><tspan x="428" dy="8.9">~ControlMeasure()</tspan><tspan x="428" dy="8.9">Parent()</tspan><tspan x="428" dy="8.9">SetAprioriLine()</tspan><tspan x="428" dy="8.9">SetAprioriSample()</tspan><tspan x="428" dy="8.9">SetCamera()</tspan><tspan x="428" dy="8.9">SetChooserName()</tspan><tspan x="428" dy="8.9">SetChooserName()</tspan><tspan x="428" dy="8.9">SetCoordinate()</tspan><tspan x="428" dy="8.9">and 59 more...</tspan><tspan x="428" dy="8.9">GetMeasureDataNames()</tspan><tspan x="428" dy="8.9">MeasureTypeToString()</tspan><tspan x="428" dy="8.9">StringToMeasureType()</tspan><tspan x="428" dy="8.9">InitializeToNull()</tspan><tspan x="428" dy="8.9">MeasureModified()</tspan></text>
</g>

<!-- CameraDistortionMap -->
<g>
<rect class="red" x="521" y="1122" width="91" height="128"/><line class="rl" x1="521" y1="1132" x2="612" y2="1132"/><line class="rl" x1="521" y1="1141" x2="612" y2="1141"/>
<text class="t" x="566.5" y="1129.3">Isis::CameraDistortionMap</text>
<text x="524" y="1147.5"><tspan x="524">+</tspan><tspan x="524" dy="8.9">+</tspan><tspan x="524" dy="8.9">+</tspan><tspan x="524" dy="8.9">+</tspan><tspan x="524" dy="8.9">+</tspan><tspan x="524" dy="8.9">+</tspan><tspan x="524" dy="8.9">+</tspan><tspan x="524" dy="8.9">+</tspan><tspan x="524" dy="8.9">+</tspan><tspan x="524" dy="8.9">+</tspan><tspan x="524" dy="8.9">+</tspan><tspan x="524" dy="8.9">+</tspan></text>
<text x="529" y="1147.5"><tspan x="529">CameraDistortionMap()</tspan><tspan x="529" dy="8.9">SetDistortion()</tspan><tspan x="529" dy="8.9">~CameraDistortionMap()</tspan><tspan x="529" dy="8.9">SetFocalPlane()</tspan><tspan x="529" dy="8.9">SetUndistortedFocalPlane()</tspan><tspan x="529" dy="8.9">OpticalDistortionCoefficients()</tspan><tspan x="529" dy="8.9">ZDirection()</tspan><tspan x="529" dy="8.9">FocalPlaneX()</tspan><tspan x="529" dy="8.9">FocalPlaneY()</tspan><tspan x="529" dy="8.9">UndistortedFocalPlaneX()</tspan><tspan x="529" dy="8.9">UndistortedFocalPlaneY()</tspan><tspan x="529" dy="8.9">UndistortedFocalPlaneZ()</tspan></text>
</g>

<!-- CameraGroundMap -->
<g>
<rect class="red" x="650" y="1122" width="75" height="128"/><line class="rl" x1="650" y1="1132" x2="725" y2="1132"/><line class="rl" x1="650" y1="1141" x2="725" y2="1141"/>
<text class="t" x="687.5" y="1129.3">Isis::CameraGroundMap</text>
<text x="653" y="1147.5"><tspan x="653">+</tspan><tspan x="653" dy="8.9">+</tspan><tspan x="653" dy="8.9">+</tspan><tspan x="653" dy="8.9">+</tspan><tspan x="653" dy="8.9">+</tspan><tspan x="653" dy="8.9">+</tspan><tspan x="653" dy="8.9">+</tspan><tspan x="653" dy="8.9">+</tspan><tspan x="653" dy="8.9">+</tspan><tspan x="653" dy="8.9">+</tspan><tspan x="653" dy="8.9"> </tspan><tspan x="653" dy="8.9">#</tspan></text>
<text x="658" y="1147.5"><tspan x="658">CameraGroundMap()</tspan><tspan x="658" dy="8.9">~CameraGroundMap()</tspan><tspan x="658" dy="8.9">SetFocalPlane()</tspan><tspan x="658" dy="8.9">SetGround()</tspan><tspan x="658" dy="8.9">SetGround()</tspan><tspan x="658" dy="8.9">GetXY()</tspan><tspan x="658" dy="8.9">GetXY()</tspan><tspan x="658" dy="8.9">GetdXYdPosition()</tspan><tspan x="658" dy="8.9">GetdXYdOrientation()</tspan><tspan x="658" dy="8.9">GetdXYdTOrientation()</tspan><tspan x="658" dy="8.9">and 7 more...</tspan><tspan x="658" dy="8.9">LookCtoFocalPlaneXY()</tspan></text>
</g>

<!-- CameraFocalPlaneMap -->
<g>
<rect class="gr" x="790" y="1100" width="82" height="180"/><line class="gl" x1="790" y1="1110" x2="872" y2="1110"/><line class="gl" x1="790" y1="1145.6" x2="872" y2="1145.6"/>
<text class="t" x="831" y="1107.3">Isis::CameraFocalPlaneMap</text>
<text x="793" y="1116.5"><tspan x="793">#</tspan><tspan x="793" dy="8.9">#</tspan><tspan x="793" dy="8.9">#</tspan><tspan x="793" dy="8.9">#</tspan></text>
<text x="798" y="1116.5"><tspan x="798">p_transx</tspan><tspan x="798" dy="8.9">p_transy</tspan><tspan x="798" dy="8.9">p_itranss</tspan><tspan x="798" dy="8.9">p_itransl</tspan></text>
<text x="793" y="1152.1"><tspan x="793">+</tspan><tspan x="793" dy="8.9">+</tspan><tspan x="793" dy="8.9">+</tspan><tspan x="793" dy="8.9">+</tspan><tspan x="793" dy="8.9">+</tspan><tspan x="793" dy="8.9">+</tspan><tspan x="793" dy="8.9">+</tspan><tspan x="793" dy="8.9">+</tspan><tspan x="793" dy="8.9">+</tspan><tspan x="793" dy="8.9">+</tspan><tspan x="793" dy="8.9"> </tspan><tspan x="793" dy="8.9">#</tspan><tspan x="793" dy="8.9">#</tspan><tspan x="793" dy="8.9">-</tspan></text>
<text x="798" y="1152.1"><tspan x="798">CameraFocalPlaneMap()</tspan><tspan x="798" dy="8.9">CameraFocalPlaneMap()</tspan><tspan x="798" dy="8.9">CameraFocalPlaneMap()</tspan><tspan x="798" dy="8.9">~CameraFocalPlaneMap()</tspan><tspan x="798" dy="8.9">SetDetector()</tspan><tspan x="798" dy="8.9">SetFocalPlane()</tspan><tspan x="798" dy="8.9">FocalPlaneX()</tspan><tspan x="798" dy="8.9">FocalPlaneY()</tspan><tspan x="798" dy="8.9">DetectorSample()</tspan><tspan x="798" dy="8.9">DetectorLine()</tspan><tspan x="798" dy="8.9">and 19 more...</tspan><tspan x="798" dy="8.9">ComputeCentered()</tspan><tspan x="798" dy="8.9">ComputeUncentered()</tspan><tspan x="798" dy="8.9">Init()</tspan></text>
</g>

<!-- CameraSkyMap -->
<g>
<rect class="gr" x="887" y="1145" width="61" height="83"/><line class="gl" x1="887" y1="1155" x2="948" y2="1155"/><line class="gl" x1="887" y1="1164" x2="948" y2="1164"/>
<text class="t" x="917.5" y="1152.3">Isis::CameraSkyMap</text>
<text x="890" y="1170.5"><tspan x="890">+</tspan><tspan x="890" dy="8.9">+</tspan><tspan x="890" dy="8.9">+</tspan><tspan x="890" dy="8.9">+</tspan><tspan x="890" dy="8.9">+</tspan><tspan x="890" dy="8.9">+</tspan><tspan x="890" dy="8.9">+</tspan></text>
<text x="895" y="1170.5"><tspan x="895">CameraSkyMap()</tspan><tspan x="895" dy="8.9">CameraSkyMap()</tspan><tspan x="895" dy="8.9">~CameraSkyMap()</tspan><tspan x="895" dy="8.9">SetFocalPlane()</tspan><tspan x="895" dy="8.9">SetSky()</tspan><tspan x="895" dy="8.9">FocalPlaneX()</tspan><tspan x="895" dy="8.9">FocalPlaneY()</tspan></text>
</g>

<!-- CameraDetectorMap -->
<g>
<rect class="gr" x="960" y="1122" width="80" height="128"/><line class="gl" x1="960" y1="1132" x2="1040" y2="1132"/><line class="gl" x1="960" y1="1141" x2="1040" y2="1141"/>
<text class="t" x="1000" y="1129.3">Isis::CameraDetectorMap</text>
<text x="963" y="1147.5"><tspan x="963">+</tspan><tspan x="963" dy="8.9">+</tspan><tspan x="963" dy="8.9">+</tspan><tspan x="963" dy="8.9">+</tspan><tspan x="963" dy="8.9">+</tspan><tspan x="963" dy="8.9">+</tspan><tspan x="963" dy="8.9">+</tspan><tspan x="963" dy="8.9">+</tspan><tspan x="963" dy="8.9">+</tspan><tspan x="963" dy="8.9">+</tspan><tspan x="963" dy="8.9"> </tspan><tspan x="963" dy="8.9">-</tspan></text>
<text x="968" y="1147.5"><tspan x="968">CameraDetectorMap()</tspan><tspan x="968" dy="8.9">~CameraDetectorMap()</tspan><tspan x="968" dy="8.9">SetParent()</tspan><tspan x="968" dy="8.9">SetParent()</tspan><tspan x="968" dy="8.9">SetDetector()</tspan><tspan x="968" dy="8.9">AdjustedStartingSample()</tspan><tspan x="968" dy="8.9">AdjustedStartingLine()</tspan><tspan x="968" dy="8.9">ParentSample()</tspan><tspan x="968" dy="8.9">ParentLine()</tspan><tspan x="968" dy="8.9">DetectorSample()</tspan><tspan x="968" dy="8.9">and 9 more...</tspan><tspan x="968" dy="8.9">Compute()</tspan></text>
</g>

<!-- SurfacePoint -->
<g>
<rect class="red" x="1370" y="1090" width="78" height="194"/><line class="rl" x1="1370" y1="1100" x2="1448" y2="1100"/><line class="rl" x1="1370" y1="1109" x2="1448" y2="1109"/>
<text class="t" x="1409" y="1097.3">Isis::SurfacePoint</text>
<text x="1373" y="1116.5"><tspan x="1373">+</tspan><tspan x="1373" dy="9.6">+</tspan><tspan x="1373" dy="9.6">+</tspan><tspan x="1373" dy="9.6">+</tspan><tspan x="1373" dy="9.6">+</tspan><tspan x="1373" dy="9.6">+</tspan><tspan x="1373" dy="9.6">+</tspan><tspan x="1373" dy="9.6">+</tspan><tspan x="1373" dy="9.6">+</tspan><tspan x="1373" dy="9.6"> </tspan><tspan x="1373" dy="9.6">+</tspan><tspan x="1373" dy="9.6">+</tspan><tspan x="1373" dy="9.6">-</tspan><tspan x="1373" dy="9.6">-</tspan><tspan x="1373" dy="9.6">-</tspan><tspan x="1373" dy="9.6">-</tspan><tspan x="1373" dy="9.6">-</tspan><tspan x="1373" dy="9.6">-</tspan></text>
<text x="1378" y="1116.5"><tspan x="1378">SurfacePoint()</tspan><tspan x="1378" dy="9.6">SurfacePoint()</tspan><tspan x="1378" dy="9.6">SurfacePoint()</tspan><tspan x="1378" dy="9.6">SurfacePoint()</tspan><tspan x="1378" dy="9.6">SurfacePoint()</tspan><tspan x="1378" dy="9.6">SurfacePoint()</tspan><tspan x="1378" dy="9.6">SurfacePoint()</tspan><tspan x="1378" dy="9.6">~SurfacePoint()</tspan><tspan x="1378" dy="9.6">SetRectangular()</tspan><tspan x="1378" dy="9.6">and 56 more...</tspan><tspan x="1378" dy="9.6">stringToCoordinateType()</tspan><tspan x="1378" dy="9.6">coordinateTypeToString()</tspan><tspan x="1378" dy="9.6">ComputeLocalRadius()</tspan><tspan x="1378" dy="9.6">InitCovariance()</tspan><tspan x="1378" dy="9.6">InitPoint()</tspan><tspan x="1378" dy="9.6">SetRectangularPoint()</tspan><tspan x="1378" dy="9.6">SetSphericalPoint()</tspan><tspan x="1378" dy="9.6">FreeAllocatedMemory()</tspan></text>
</g>

<!-- ControlPoint -->
<g>
<rect class="gr" x="933" y="1352" width="89" height="213"/><line class="gl" x1="933" y1="1362" x2="1022" y2="1362"/><line class="gl" x1="933" y1="1371" x2="1022" y2="1371"/>
<text class="t" x="977.5" y="1359.3">Isis::ControlPoint</text>
<text x="936" y="1377.5"><tspan x="936">+</tspan><tspan x="936" dy="8.8">+</tspan><tspan x="936" dy="8.8">+</tspan><tspan x="936" dy="8.8">+</tspan><tspan x="936" dy="8.8">+</tspan><tspan x="936" dy="8.8">+</tspan><tspan x="936" dy="8.8">+</tspan><tspan x="936" dy="8.8">+</tspan><tspan x="936" dy="8.8">+</tspan><tspan x="936" dy="8.8">+</tspan><tspan x="936" dy="8.8"> </tspan><tspan x="936" dy="8.8">+</tspan><tspan x="936" dy="8.8">+</tspan><tspan x="936" dy="8.8">+</tspan><tspan x="936" dy="8.8">+</tspan><tspan x="936" dy="8.8">+</tspan><tspan x="936" dy="8.8">+</tspan><tspan x="936" dy="8.8">#</tspan><tspan x="936" dy="8.8">-</tspan><tspan x="936" dy="8.8">-</tspan><tspan x="936" dy="8.8">-</tspan></text>
<text x="941" y="1377.5"><tspan x="941">ControlPoint()</tspan><tspan x="941" dy="8.8">ControlPoint()</tspan><tspan x="941" dy="8.8">ControlPoint()</tspan><tspan x="941" dy="8.8">~ControlPoint()</tspan><tspan x="941" dy="8.8">Parent()</tspan><tspan x="941" dy="8.8">Load()</tspan><tspan x="941" dy="8.8">Add()</tspan><tspan x="941" dy="8.8">Delete()</tspan><tspan x="941" dy="8.8">Delete()</tspan><tspan x="941" dy="8.8">Delete()</tspan><tspan x="941" dy="8.8">and 86 more...</tspan><tspan x="941" dy="8.8">PointTypeToString()</tspan><tspan x="941" dy="8.8">StringToPointType()</tspan><tspan x="941" dy="8.8">RadiusSourceToString()</tspan><tspan x="941" dy="8.8">StringToRadiusSource()</tspan><tspan x="941" dy="8.8">SurfacePointSourceToString()</tspan><tspan x="941" dy="8.8">StringToSurfacePointSource()</tspan><tspan x="941" dy="8.8">PointModified()</tspan><tspan x="941" dy="8.8">SetExplicitReference()</tspan><tspan x="941" dy="8.8">ValidateMeasure()</tspan><tspan x="941" dy="8.8">AddMeasure()</tspan></text>
</g>
</svg>
</body></html>
